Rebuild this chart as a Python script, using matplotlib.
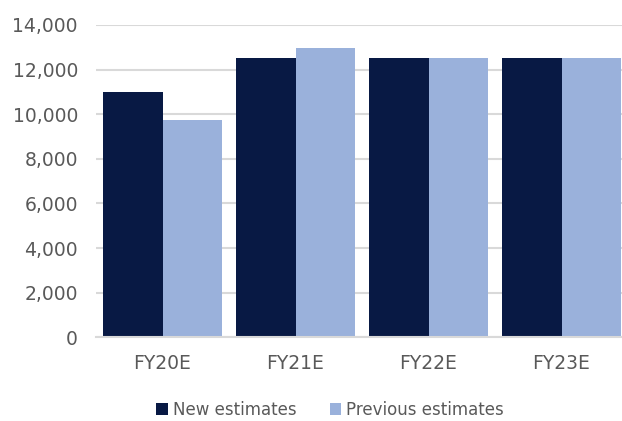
import matplotlib
matplotlib.use("Agg")
import matplotlib.pyplot as plt
import numpy as np

categories = ["FY20E", "FY21E", "FY22E", "FY23E"]
new_estimates = [11000, 12500, 12500, 12500]
previous_estimates = [9750, 12970, 12500, 12500]
y_ticks = [0, 2000, 4000, 6000, 8000, 10000, 12000, 14000]

navy = "#081944"
light = "#9ab1db"
grey_text = "#595959"

plt.rcParams['font.family'] = ['DejaVu Sans']

fig = plt.figure(figsize=(6.22, 4.21), dpi=100)
ax = fig.add_axes([96/622, 83.7/421, 532/622, 312.3/421])

x = np.arange(len(categories))
w = 0.444
ax.bar(x - w/2, new_estimates, width=w, color=navy, label="New estimates", zorder=3)
ax.bar(x + w/2, previous_estimates, width=w, color=light, label="Previous estimates", zorder=3)

ax.set_xlim(-0.5, 3.5)
ax.set_ylim(0, 14000)
ax.set_yticks(y_ticks)
ax.set_yticklabels([f"{v:,}" for v in y_ticks])
ax.set_xticks(x)
ax.set_xticklabels(categories)
ax.yaxis.grid(True, color="#d9d9d9", linewidth=1.5, zorder=0)
ax.set_axisbelow(True)
for s in ["top", "right", "left"]:
    ax.spines[s].set_visible(False)
ax.spines["bottom"].set_color("#d9d9d9")
ax.spines["bottom"].set_linewidth(1.5)
ax.spines["bottom"].set_zorder(4)
ax.tick_params(axis="y", length=0, pad=13, labelsize=13.5, labelcolor=grey_text)
ax.tick_params(axis="x", length=0, pad=12, labelsize=13.5, labelcolor=grey_text)

fig.legend(loc="center", bbox_to_anchor=(330/622, 11/421), ncol=2, frameon=False,
           fontsize=12, labelcolor=grey_text, handlelength=0.7, handleheight=0.7,
           handletextpad=0.3, columnspacing=2.0)

fig.savefig("out.png", dpi=100)
